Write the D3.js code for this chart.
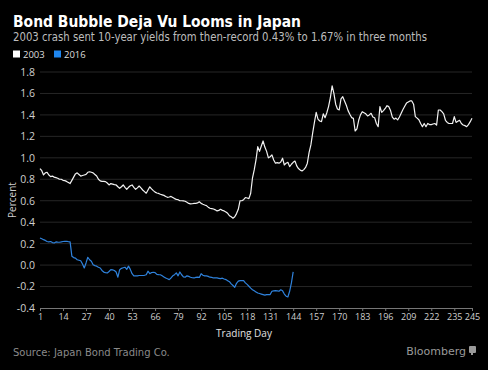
<!DOCTYPE html>
<html><head><meta charset="utf-8">
<script src="https://cdn.jsdelivr.net/npm/d3@7"></script>
<style>html,body{margin:0;padding:0;background:#000;}svg{display:block;}</style>
</head><body><svg id="c" width="488" height="370"></svg>
<script>
const title = "Bond Bubble Deja Vu Looms in Japan";
const subtitle = "2003 crash sent 10-year yields from then-record 0.43% to 1.67% in three months";
const seriesNames = ["2003", "2016"];
const xTicks = [1,14,27,40,53,66,79,92,105,118,131,144,157,170,183,196,209,222,235,245];
const yTicks = [-0.4,-0.2,0.0,0.2,0.4,0.6,0.8,1.0,1.2,1.4,1.6,1.8];
const yield2003 = [0.90,0.88,0.84,0.86,0.865,0.84,0.825,0.83,0.82,0.815,0.81,0.80,0.80,0.79,0.787,0.78,0.77,0.76,0.79,0.82,
0.85,0.86,0.845,0.83,0.835,0.84,0.845,0.865,0.87,0.865,0.86,0.845,0.83,0.80,0.785,0.78,0.78,0.778,0.765,0.747,
0.76,0.755,0.75,0.747,0.73,0.716,0.73,0.747,0.725,0.707,0.725,0.74,0.747,0.725,0.707,0.72,0.737,0.72,0.70,0.685,
0.67,0.70,0.73,0.71,0.694,0.68,0.672,0.668,0.66,0.655,0.65,0.64,0.632,0.635,0.64,0.63,0.62,0.613,0.61,0.60,
0.60,0.598,0.595,0.585,0.575,0.57,0.572,0.575,0.576,0.58,0.59,0.575,0.567,0.56,0.554,0.54,0.53,0.527,0.523,0.515,
0.505,0.51,0.52,0.51,0.505,0.495,0.483,0.46,0.45,0.437,0.45,0.48,0.52,0.60,0.60,0.61,0.63,0.625,0.62,0.67,
0.81,0.887,0.98,1.104,1.06,1.11,1.157,1.10,1.06,1.00,1.01,1.027,0.98,0.95,0.955,0.95,0.96,0.996,0.933,0.95,
0.958,0.918,0.94,0.958,0.97,0.925,0.90,0.885,0.877,0.89,0.91,0.95,1.05,1.12,1.23,1.33,1.424,1.36,1.343,1.337,
1.41,1.374,1.42,1.48,1.56,1.67,1.60,1.50,1.455,1.446,1.55,1.57,1.53,1.49,1.44,1.406,1.375,1.368,1.25,1.27,
1.35,1.40,1.43,1.42,1.41,1.39,1.40,1.415,1.38,1.374,1.32,1.29,1.477,1.424,1.44,1.46,1.486,1.477,1.44,1.38,
1.36,1.37,1.353,1.38,1.415,1.45,1.48,1.51,1.52,1.53,1.53,1.50,1.384,1.37,1.355,1.32,1.29,1.32,1.29,1.32,
1.31,1.31,1.315,1.32,1.305,1.446,1.446,1.43,1.41,1.35,1.33,1.32,1.32,1.32,1.384,1.33,1.34,1.35,1.32,1.306,
1.30,1.29,1.31,1.337,1.368];
const yield2016 = [0.253,0.245,0.237,0.23,0.22,0.216,0.22,0.21,0.206,0.216,0.214,0.213,0.216,0.22,0.222,0.222,0.218,0.216,0.083,0.07,
0.065,0.05,0.045,0.04,0.01,-0.027,0.02,0.073,0.05,0.036,0.004,-0.005,-0.01,-0.02,-0.027,-0.05,-0.065,-0.07,-0.073,-0.06,
-0.043,-0.045,-0.05,-0.065,-0.113,-0.043,-0.03,-0.025,-0.02,-0.04,-0.01,-0.04,-0.08,-0.10,-0.10,-0.10,-0.097,-0.097,-0.097,-0.095,
-0.09,-0.057,-0.08,-0.07,-0.067,-0.07,-0.087,-0.089,-0.09,-0.10,-0.11,-0.12,-0.128,-0.135,-0.12,-0.10,-0.089,-0.073,-0.10,-0.064,
-0.09,-0.11,-0.113,-0.10,-0.105,-0.113,-0.118,-0.12,-0.115,-0.113,-0.115,-0.08,-0.095,-0.10,-0.10,-0.105,-0.113,-0.115,-0.12,-0.12,
-0.12,-0.123,-0.126,-0.122,-0.13,-0.135,-0.145,-0.155,-0.175,-0.19,-0.207,-0.17,-0.15,-0.145,-0.145,-0.145,-0.166,-0.18,-0.197,-0.215,
-0.23,-0.24,-0.25,-0.26,-0.265,-0.27,-0.275,-0.28,-0.275,-0.275,-0.275,-0.244,-0.24,-0.238,-0.24,-0.244,-0.23,-0.24,-0.27,-0.29,
-0.297,-0.244,-0.166,-0.064];
const colors = ["#f2f2f2", "#2f82dc"];

const svg = d3.select("#c");
const W = 488, H = 370;
svg.append("rect").attr("width", W).attr("height", H).attr("fill", "#000");
const font = "'DejaVu Sans', Verdana, sans-serif";
const font2 = "'Open Sans', 'DejaVu Sans', sans-serif";
const m = {left: 40, right: 472, top: 72, bottom: 308};
const x = d3.scaleLinear().domain([1, 245]).range([m.left, m.right]);
const y = d3.scaleLinear().domain([-0.4, 1.8]).range([m.bottom, m.top]);

// title
svg.append("text").attr("x", 13).attr("y", 27).text(title)
  .attr("fill", "#fff").attr("font-family", font).attr("font-weight", "bold").attr("font-size", 16.5)
  .attr("textLength", 288).attr("lengthAdjust", "spacingAndGlyphs");
svg.append("text").attr("x", 13).attr("y", 41).text(subtitle)
  .attr("fill", "#bdbdbd").attr("font-family", font).attr("font-size", 11.5)
  .attr("textLength", 414).attr("lengthAdjust", "spacingAndGlyphs");

// legend
const lg = svg.append("g").attr("font-family", font2).attr("font-size", 9.5).attr("fill", "#ddd");
[[13, 23], [54, 64]].forEach((p, i) => {
  lg.append("rect").attr("x", p[0]).attr("y", 50.5).attr("width", 7).attr("height", 7).attr("fill", i === 0 ? "#fff" : "#1f86ee");
  lg.append("text").attr("x", p[1]).attr("y", 58).text(seriesNames[i]);
});

// grid
svg.append("g").selectAll("line").data(yTicks.filter(d => d > -0.4)).join("line")
  .attr("x1", m.left).attr("x2", m.right).attr("y1", d => y(d)).attr("y2", d => y(d))
  .attr("stroke", "#262626").attr("stroke-width", 1);

// y axis labels
const yAxis = d3.axisLeft(y).tickValues(yTicks).tickFormat(d3.format(".1f")).tickSize(0).tickPadding(4);
const ya = svg.append("g").attr("transform", `translate(${m.left - 1},0)`).call(yAxis);
ya.select(".domain").remove();
ya.selectAll("text").attr("fill", "#cfcfcf").attr("font-family", font2).attr("font-size", 10.5)
  .text(d => d3.format(".1f")(d).replace("−", "-"));

// x axis
const xAxis = d3.axisBottom(x).tickValues(xTicks).tickSize(3).tickPadding(3).tickFormat(d3.format("d"));
const xa = svg.append("g").attr("transform", `translate(0,${m.bottom})`).call(xAxis);
xa.select(".domain").attr("stroke", "#777");
xa.selectAll(".tick line").attr("stroke", "#777");
xa.selectAll("text").attr("fill", "#cfcfcf").attr("font-family", font2).attr("font-size", 9);

svg.append("text").attr("x", 244).attr("y", 337).attr("text-anchor", "middle").text("Trading Day")
  .attr("fill", "#e0e0e0").attr("font-family", font2).attr("font-size", 10);
svg.append("text").attr("transform", `translate(16,${(m.top + m.bottom) / 2 + 10}) rotate(-90)`).attr("text-anchor", "middle")
  .text("Percent").attr("fill", "#cfcfcf").attr("font-family", font2).attr("font-size", 10);

// lines
const line = d3.line().x((d, i) => x(i + 1)).y(d => y(d));
[yield2003, yield2016].forEach((s, i) => {
  svg.append("path").datum(s).attr("d", line).attr("fill", "none")
    .attr("stroke", colors[i]).attr("stroke-width", 1.2).attr("stroke-linejoin", "round");
});

// footer
svg.append("text").attr("x", 13).attr("y", 356).text("Source: Japan Bond Trading Co.")
  .attr("fill", "#8a8a8a").attr("font-family", font).attr("font-size", 10);
svg.append("text").attr("x", 466).attr("y", 355).attr("text-anchor", "end").text("Bloomberg")
  .attr("fill", "#9a9a9a").attr("font-family", font).attr("font-size", 11);
svg.append("rect").attr("x", 469).attr("y", 346).attr("width", 7).attr("height", 7).attr("rx", 1).attr("fill", "#9a9a9a");
svg.append("rect").attr("x", 471).attr("y", 353).attr("width", 2).attr("height", 2).attr("fill", "#9a9a9a");
</script></body></html>
